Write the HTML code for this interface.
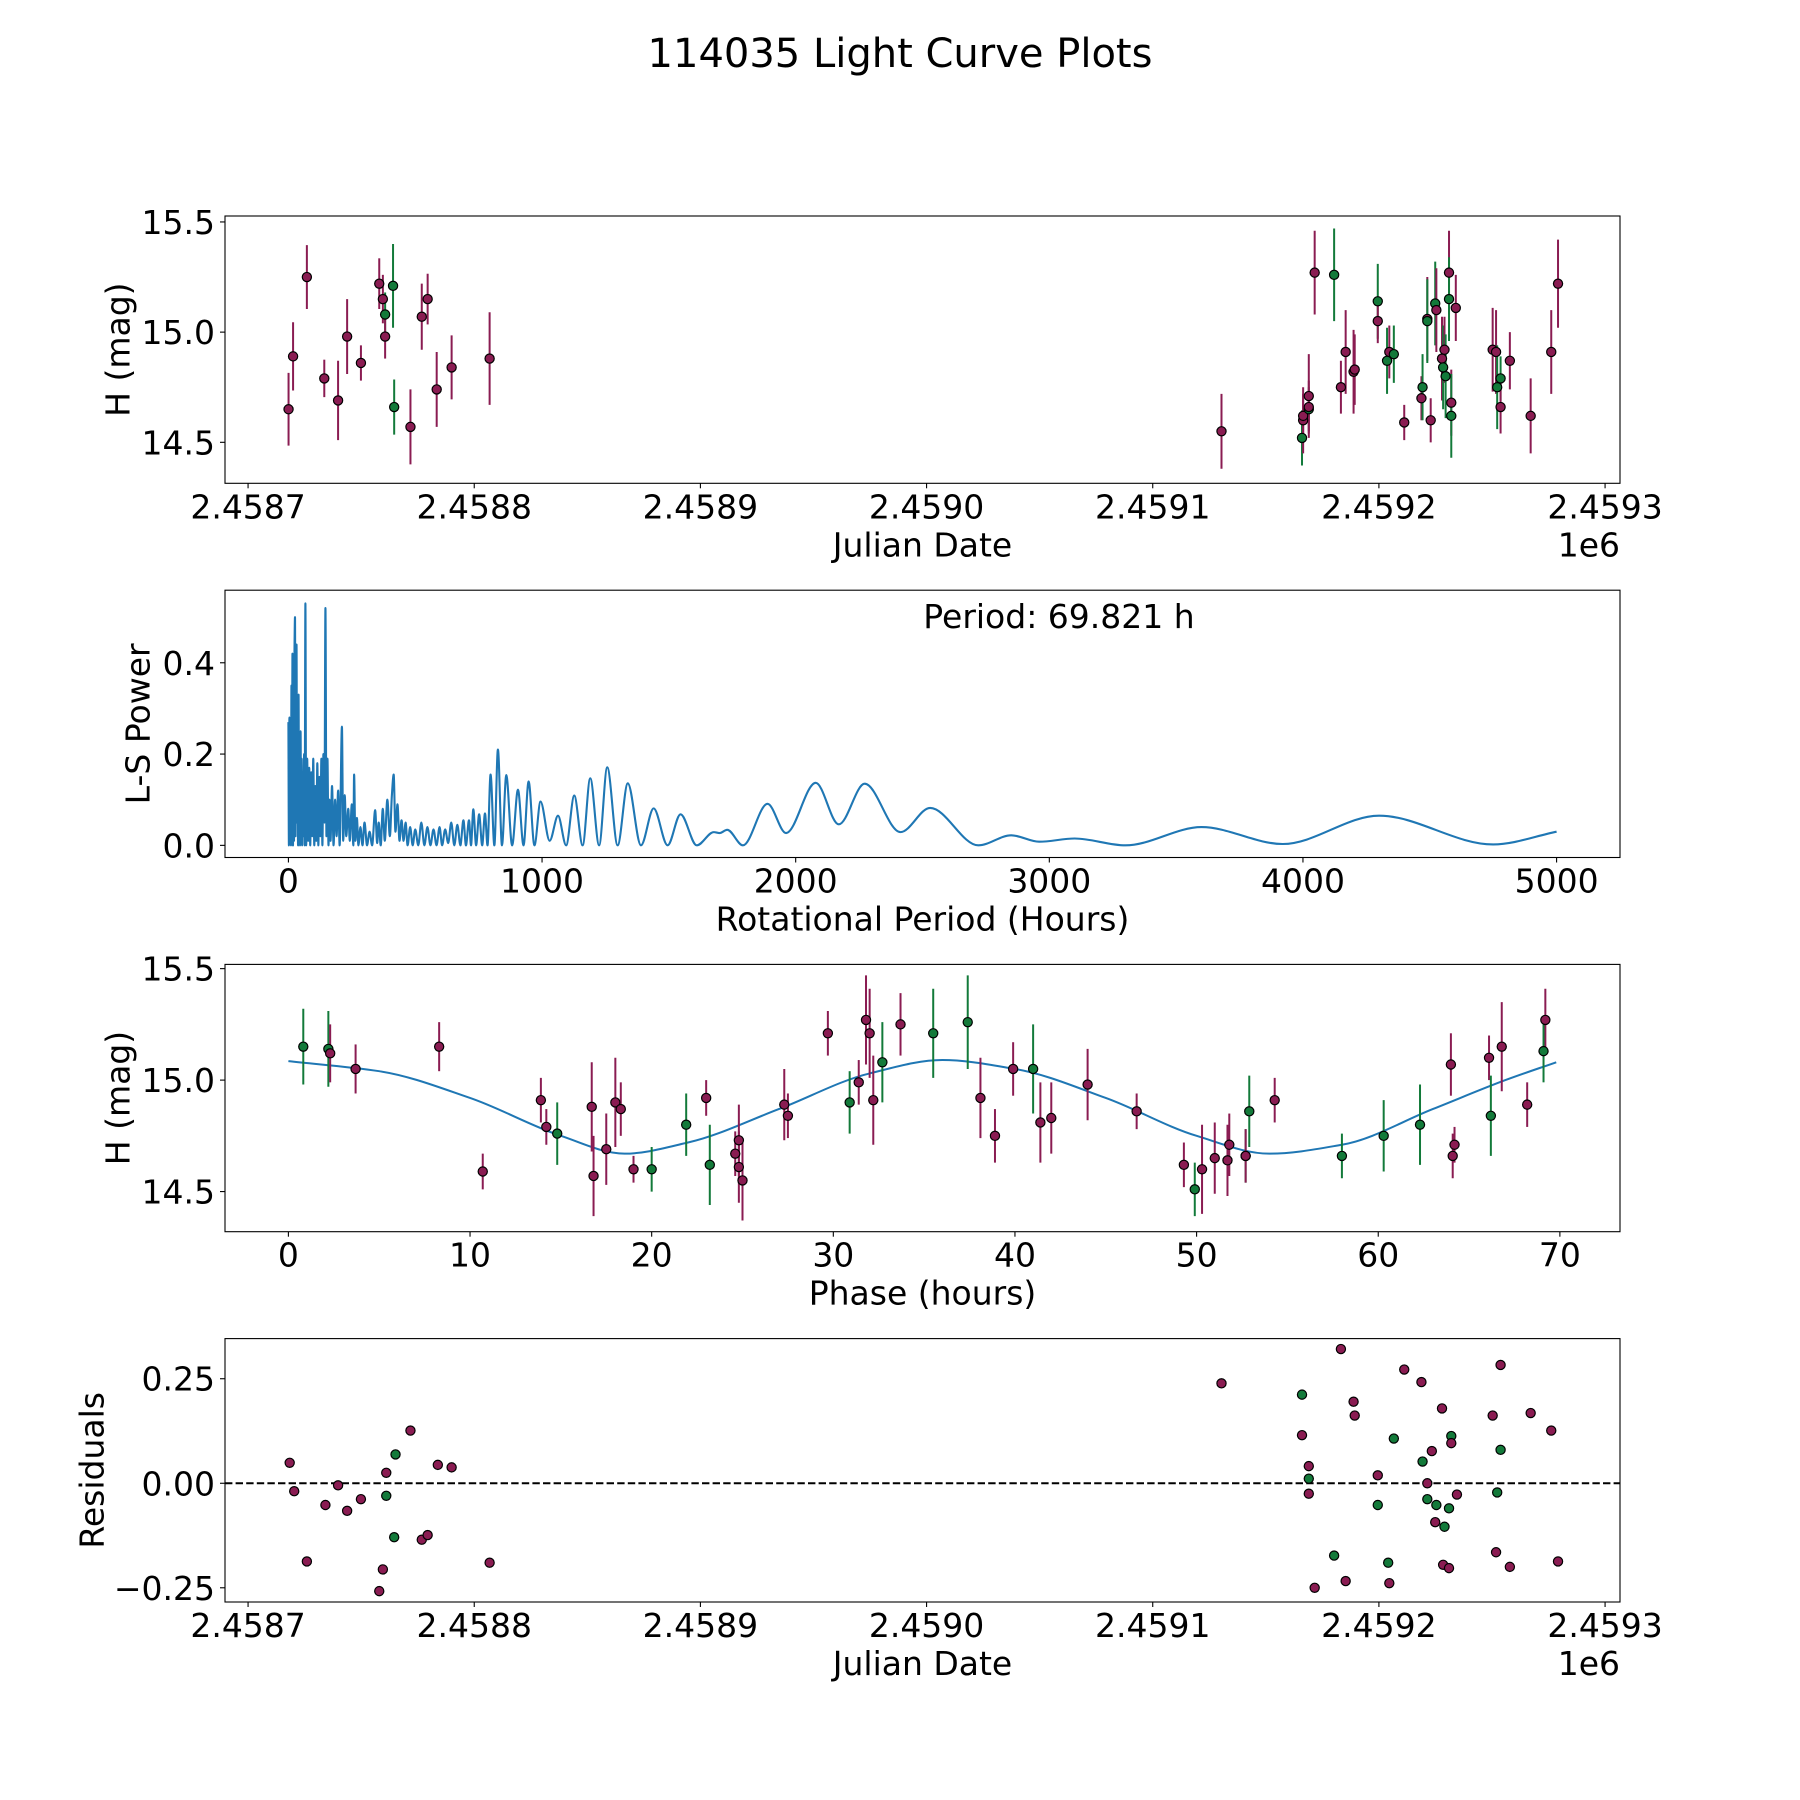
<!DOCTYPE html>
<html><head><meta charset="utf-8"><style>
html,body{margin:0;padding:0;background:#fff;}
svg{display:block;font-family:"DejaVu Sans","Liberation Sans",sans-serif;}
</style></head><body>
<svg id="fig" width="1800" height="1800" viewBox="0 0 1800 1800" xmlns="http://www.w3.org/2000/svg">
<rect width="1800" height="1800" fill="#fff"/>
<text x="900" y="67" font-size="40" text-anchor="middle">114035 Light Curve Plots</text>
</svg>
<script>
// ---- Panel 1: light curve data ----
const lcDates=[2458717.9,2458719.9,2458726.0,2458733.7,2458739.8,2458743.8,2458749.9,2458758.0,2458759.6,2458760.6,2458760.6,2458764.1,2458764.6,2458771.8,2458776.8,2458779.4,2458783.4,2458790.0,2458806.8,
2459130.4,2459166.0,2459166.5,2459166.5,2459169.0,2459169.0,2459169.0,2459171.6,2459180.2,2459183.2,2459185.3,2459188.8,2459189.3,2459199.5,2459199.5,2459203.6,2459204.6,2459206.6,2459211.2,2459218.8,2459219.3,2459221.4,2459221.4,2459222.9,2459224.9,2459225.4,2459227.9,2459228.4,2459229.0,2459229.5,2459231.0,2459231.0,2459232.0,2459232.0,2459234.0,2459250.3,2459251.8,2459252.3,2459253.8,2459253.8,2459257.9,2459267.1,2459276.2,2459279.2];
const lcMags=[14.65,14.89,15.25,14.79,14.69,14.98,14.86,15.22,15.15,15.08,14.98,15.21,14.66,14.57,15.07,15.15,14.74,14.84,14.88,
14.55,14.52,14.60,14.62,14.65,14.66,14.71,15.27,15.26,14.75,14.91,14.82,14.83,15.14,15.05,14.87,14.91,14.90,14.59,14.70,14.75,15.06,15.05,14.60,15.13,15.10,14.88,14.84,14.92,14.80,15.27,15.15,14.68,14.62,15.11,14.92,14.91,14.75,14.79,14.66,14.87,14.62,14.91,15.22];
const lcErrs=[0.165,0.155,0.145,0.085,0.18,0.17,0.08,0.115,0.11,0.1,0.1,0.19,0.125,0.17,0.15,0.115,0.17,0.145,0.21,
0.17,0.125,0.15,0.1,0.1,0.12,0.19,0.19,0.21,0.12,0.19,0.19,0.16,0.17,0.1,0.15,0.12,0.13,0.08,0.1,0.15,0.19,0.19,0.1,0.19,0.19,0.19,0.19,0.15,0.19,0.19,0.19,0.15,0.19,0.15,0.19,0.19,0.19,0.1,0.12,0.13,0.17,0.19,0.2];
const lcBands="mmmmmmmmmgmggmmmmmm"+"mgmmgmmmgmmmmgmgmgmmgmgmgmmgmgmgmgmmmggmmmmm";
// ---- Panel 2: periodogram ----
const lsPeriods=[0,2,4,6,8,10,12,14,16,18,20,22,24,26,28,30,32,34,36,38,40,42,44,46,48,50,52,54,56,58,62,64,67,70,74,78,82,86,90,94,98,102,106,110,114,118,122,126,130,134,138,142,146,150,154,158,162,166,172,178,184,190,196,202,211,216,222,228,236,242,250,256,259,264,270,276,284,292,300,310,320,330,342,350,356,364,372,380,390,400,408,415,422,430,438,446,454,462,470,480,490,500,512,524,536,548,560,572,584,596,606,618,630,642,654,666,678,690,700,712,720,729,740,752,764,775,785,797,812,826,842,859,882,905,927,947,970,994,1030,1063,1095,1127,1160,1190,1225,1257,1298,1338,1390,1440,1495,1546,1610,1677,1700,1730,1792,1889,1962,2079,2170,2272,2413,2530,2720,2850,2960,3100,3300,3600,3920,4300,4750,5000];
const lsPower=[0.27,0.0,0.28,0.01,0.2,0,0.35,0.02,0.42,0,0.3,0.01,0.43,0.5,0.02,0.3,0.44,0.05,0.2,0.0,0.33,0.02,0.18,0,0.25,0.01,0.19,0.0,0.15,0.02,0.2,0.0,0.53,0.0,0.19,0.01,0.17,0.0,0.16,0.02,0.19,0,0.13,0.01,0.18,0,0.15,0.02,0.19,0,0.2,0.05,0.52,0.02,0.19,0,0.1,0.01,0.13,0,0.1,0.02,0.12,0,0.26,0.01,0.11,0.02,0.08,0.01,0.09,0.0,0.155,0.01,0.06,0.0,0.04,0.0,0.05,0.0,0.03,0.0,0.077,0.005,0.05,0.0,0.08,0.01,0.1,0.02,0.11,0.155,0.03,0.09,0.01,0.055,0.01,0.05,0.0,0.04,0.0,0.035,0.0,0.05,0.0,0.04,0.0,0.035,0.0,0.04,0.0,0.035,0.005,0.05,0.0,0.045,0.0,0.055,0.0,0.055,0.0,0.079,0.0,0.068,0.0,0.07,0.0,0.155,0.0,0.21,0.0,0.154,0.0,0.122,0.0,0.14,0.0,0.096,0.01,0.065,0.0,0.109,0.0,0.147,0.0,0.171,0.0,0.136,0.0,0.081,0.0,0.068,0.0,0.029,0.027,0.034,0.0,0.091,0.027,0.137,0.046,0.135,0.029,0.082,0.0,0.022,0.008,0.015,0.0,0.04,0.003,0.065,0.002,0.03];
const lsPeriodLabel="Period: 69.821 h";
// ---- Panel 3: phased ----
const phHours=[0.82,2.2,2.3,3.7,8.3,10.7,13.9,14.2,14.8,16.7,16.8,17.5,18.0,18.3,19.0,20.0,21.9,23.0,23.2,24.6,24.8,24.8,25.0,27.3,27.5,29.7,30.9,31.4,31.8,32.0,32.2,32.7,33.7,35.5,37.4,38.1,38.9,39.9,41.0,41.4,42.0,44.0,46.7,49.3,49.9,50.3,51.0,51.7,51.8,52.7,52.7,52.9,54.3,58.0,60.3,62.3,64.0,64.1,64.2,66.1,66.2,66.8,68.2,69.2,69.1];
const phMags=[15.15,15.14,15.12,15.05,15.15,14.59,14.91,14.79,14.76,14.88,14.57,14.69,14.90,14.87,14.60,14.60,14.80,14.92,14.62,14.67,14.73,14.61,14.55,14.89,14.84,15.21,14.90,14.99,15.27,15.21,14.91,15.08,15.25,15.21,15.26,14.92,14.75,15.05,15.05,14.81,14.83,14.98,14.86,14.62,14.51,14.60,14.65,14.64,14.71,14.66,14.66,14.86,14.91,14.66,14.75,14.80,15.07,14.66,14.71,15.10,14.84,15.15,14.89,15.27,15.13];
const phErrs=[0.17,0.17,0.13,0.11,0.11,0.08,0.1,0.08,0.14,0.2,0.18,0.16,0.2,0.12,0.06,0.1,0.14,0.08,0.18,0.1,0.16,0.16,0.18,0.16,0.1,0.1,0.14,0.1,0.2,0.2,0.2,0.18,0.14,0.2,0.21,0.18,0.12,0.12,0.2,0.18,0.16,0.16,0.08,0.1,0.12,0.2,0.16,0.16,0.14,0.12,0.12,0.16,0.1,0.1,0.16,0.18,0.14,0.1,0.08,0.1,0.18,0.2,0.1,0.14,0.14];
const phBands="ggmmm"+"mmmgm"+"mmmmm"+"ggmgm"+"mmmmm"+"mgmmm"+"mgmgg"+"mmmgm"+"mmmmg"+"mmmmg"+"mgmgg"+"gmmmm"+"gmmmg";
const fitPhase=[0,5,10,15,18.5,22,27,32,36,40,45,50,54,58,63,67,69.8];
const fitMag=[15.085,15.04,14.92,14.75,14.67,14.72,14.87,15.03,15.09,15.05,14.92,14.75,14.67,14.71,14.87,15.0,15.08];
// ---- Panel 4: residuals ----
const resDates=[2458718.4,2458720.4,2458726.0,2458734.2,2458739.8,2458743.8,2458749.9,2458758.0,2458759.6,2458761.1,2458761.1,2458765.2,2458764.6,2458771.8,2458776.8,2458779.4,2458783.9,2458790.0,2458806.8,
2459130.4,2459166.0,2459166.0,2459169.0,2459169.0,2459169.0,2459171.6,2459180.2,2459183.2,2459185.3,2459188.8,2459189.3,2459199.5,2459199.5,2459204.1,2459204.6,2459206.6,2459211.2,2459218.8,2459219.3,2459221.4,2459221.4,2459223.4,2459224.9,2459225.4,2459227.9,2459228.4,2459229.0,2459231.0,2459231.0,2459232.0,2459232.0,2459234.5,2459250.3,2459251.8,2459252.3,2459253.8,2459253.8,2459257.9,2459267.1,2459276.2,2459279.2];
const resValues=[0.049,-0.019,-0.187,-0.052,-0.005,-0.066,-0.038,-0.258,-0.206,0.025,-0.030,0.069,-0.129,0.126,-0.135,-0.124,0.044,0.038,-0.19,
0.239,0.212,0.115,0.041,0.011,-0.025,-0.25,-0.173,0.321,-0.234,0.195,0.162,0.019,-0.052,-0.19,-0.239,0.107,0.272,0.242,0.052,0,-0.038,0.077,-0.093,-0.052,0.179,-0.195,-0.104,-0.203,-0.06,0.113,0.096,-0.027,0.162,-0.165,-0.022,0.08,0.283,-0.2,0.168,0.126,-0.187];
const resBands="mmmmmmmmmmgggmmmmmm"+"mgmmgmmgmmmmmggmgmmgmgmmgmmgmggmmmmggmmmmm";

const xTicksJD=[2458700,2458800,2458900,2459000,2459100,2459200,2459300];
const xTickLabelsJD=["2.4587","2.4588","2.4589","2.4590","2.4591","2.4592","2.4593"];
const yTicksH=[14.5,15.0,15.5];const yTickLabelsH=["14.5","15.0","15.5"];
const xTicksP=[0,1000,2000,3000,4000,5000];const xTickLabelsP=["0","1000","2000","3000","4000","5000"];
const yTicksP=[0,0.2,0.4];const yTickLabelsP=["0.0","0.2","0.4"];
const xTicksPh=[0,10,20,30,40,50,60,70];const xTickLabelsPh=["0","10","20","30","40","50","60","70"];
const yTicksR=[-0.25,0,0.25];const yTickLabelsR=["\u22120.25","0.00","0.25"];

const NS="http://www.w3.org/2000/svg";
const svg=document.getElementById('fig');
const MAG="#8a1c52",GRN="#137a3a",BLUE="#1f77b4";
const FS=33;
function mk(tag,attrs,parent){const e=document.createElementNS(NS,tag);for(const k in attrs)e.setAttribute(k,attrs[k]);(parent||svg).appendChild(e);return e;}
const L=225,R=1620;
function scale(d0,d1,r0,r1){return v=>r0+(v-d0)/(d1-d0)*(r1-r0);}
function axes(name,top,bot,xd,yd,xt,xl,yt,yl,xlab,ylab,ylabX,offsetTxt){
  const g=mk('g',{});
  
  
  const sx=scale(xd[0],xd[1],L,R),sy=scale(yd[0],yd[1],bot,top);
  xt.forEach((t,i)=>{const x=sx(t);
    const tk=mk('line',{x1:x,x2:x,y1:bot,y2:bot+5,stroke:'#000','stroke-width':1.1},g);
    
    
    const tl=mk('text',{x:x,y:bot+35,'font-size':FS,'text-anchor':'middle'},g);tl.textContent=xl[i];
    
    });
  yt.forEach((t,i)=>{const y=sy(t);
    const tk=mk('line',{x1:L-5,x2:L,y1:y,y2:y,stroke:'#000','stroke-width':1.1},g);
    
    
    const tl=mk('text',{x:L-10,y:y+12,'font-size':FS,'text-anchor':'end'},g);tl.textContent=yl[i];
    
    });
  const xa=mk('text',{x:(L+R)/2,y:bot+73,'font-size':FS,'text-anchor':'middle'},g);xa.textContent=xlab;
  
  
  const cy=(top+bot)/2;
  const ya=mk('text',{x:ylabX,y:cy,'font-size':FS,'text-anchor':'middle','dominant-baseline':'central',transform:`rotate(-90 ${ylabX} ${cy})`},g);ya.textContent=ylab;
  
  
  if(offsetTxt){const o=mk('text',{x:R,y:bot+73,'font-size':FS,'text-anchor':'end'},g);o.textContent=offsetTxt;
    
    }
  const clip='c'+name;const cp=mk('clipPath',{id:clip},g);mk('rect',{x:L,y:top,width:R-L,height:bot-top},cp);
  const plot=mk('g',{'clip-path':`url(#${clip})`},g);
  
  
  return {g,plot,sx,sy,top,bot};
}
function frame(a){const f=mk('rect',{x:L,y:a.top,width:R-L,height:a.bot-a.top,fill:'none',stroke:'#000','stroke-width':1.1},a.g);
  
  }
function errpts(a,xs,ys,es,bands){
  xs.forEach((x,i)=>{const c=bands[i]==='g'?GRN:MAG;const X=a.sx(x);
    if(es){const eb=mk('line',{x1:X,x2:X,y1:a.sy(ys[i]-es[i]),y2:a.sy(ys[i]+es[i]),stroke:c,'stroke-width':2},a.plot);
      
      }
  });
  xs.forEach((x,i)=>{const c=bands[i]==='g'?GRN:MAG;
    const p=mk('circle',{cx:a.sx(x),cy:a.sy(ys[i]),r:4.6,fill:c,stroke:'#000','stroke-width':1.2},a.plot);
    
    });
}
function monotonePath(xs,ys,sx,sy){
  const n=xs.length,X=xs.map(sx),Y=ys.map(sy);const d=[],m=new Array(n);
  for(let i=0;i<n-1;i++)d.push((Y[i+1]-Y[i])/(X[i+1]-X[i]));
  m[0]=d[0];m[n-1]=d[n-2];
  for(let i=1;i<n-1;i++){if(d[i-1]*d[i]<=0)m[i]=0;else{m[i]=3*(d[i-1]+d[i])/((2*d[i]+d[i-1])/d[i-1]+(d[i]+2*d[i-1])/d[i]);}}
  let s=`M${X[0]},${Y[0]}`;
  for(let i=0;i<n-1;i++){const h=(X[i+1]-X[i])/3;s+=`C${X[i]+h},${Y[i]+m[i]*h} ${X[i+1]-h},${Y[i+1]-m[i+1]*h} ${X[i+1]},${Y[i+1]}`;}
  return s;
}
// Panel 1
const a1=axes('light-curve-panel',216,483.3,[2458689.8,2459306.6],[14.314,15.527],xTicksJD,xTickLabelsJD,yTicksH,yTickLabelsH,'Julian Date','H (mag)',118,'1e6');
errpts(a1,lcDates,lcMags,lcErrs,lcBands);frame(a1);
// Panel 2
const a2=axes('periodogram-panel',590.2,857.5,[-250,5250],[-0.0266,0.559],xTicksP,xTickLabelsP,yTicksP,yTickLabelsP,'Rotational Period (Hours)','L-S Power',138);
const lp=mk('path',{d:monotonePath(lsPeriods,lsPower,a2.sx,a2.sy),fill:'none',stroke:BLUE,'stroke-width':2.1,'stroke-linejoin':'round'},a2.plot);


const pt=mk('text',{x:1059,y:628,'font-size':FS,'text-anchor':'middle'},a2.g);pt.textContent=lsPeriodLabel;


frame(a2);
// Panel 3
const a3=axes('phase-panel',964.4,1231.7,[-3.49,73.31],[14.32,15.519],xTicksPh,xTickLabelsPh,yTicksH,yTickLabelsH,'Phase (hours)','H (mag)',118);
const fp=mk('path',{d:monotonePath(fitPhase,fitMag,a3.sx,a3.sy),fill:'none',stroke:BLUE,'stroke-width':2},a3.plot);


errpts(a3,phHours,phMags,phErrs,phBands);frame(a3);
// Panel 4
const a4=axes('residuals-panel',1338.6,1602,[2458689.8,2459306.6],[-0.284,0.346],xTicksJD,xTickLabelsJD,yTicksR,yTickLabelsR,'Julian Date','Residuals',92,'1e6');
const zl=mk('line',{x1:L,x2:R,y1:a4.sy(0),y2:a4.sy(0),stroke:'#000','stroke-width':2,'stroke-dasharray':'7.4,3.2'},a4.plot);


errpts(a4,resDates,resValues,null,resBands);frame(a4);
</script>
</body></html>
